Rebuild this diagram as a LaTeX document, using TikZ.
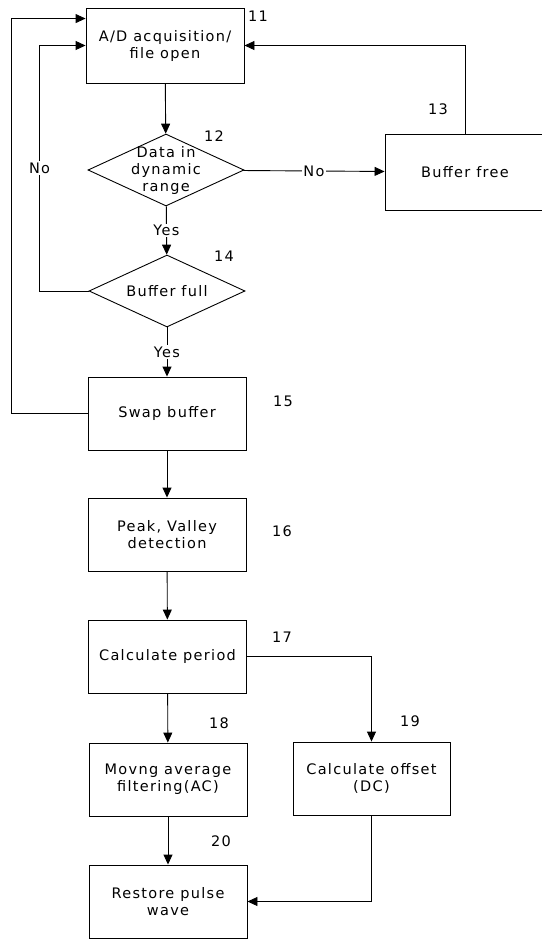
\documentclass[tikz,border=0pt]{standalone}
\usepackage{fontspec}
\setmainfont[LetterSpace=9]{DejaVu Sans}
\usepackage{tikz}
\usetikzlibrary{arrows.meta,positioning,shapes.geometric}

\begin{document}
\begin{tikzpicture}[x=1pt,y=-1pt,>={Triangle[length=10pt,width=9pt]},line width=.9pt,
  every node/.style={font=\fontsize{14.5}{17}\selectfont},
  box/.style={draw,align=center,minimum width=158,minimum height=73,inner sep=2pt},
  dec/.style={diamond,draw,minimum width=156,minimum height=72,inner sep=0pt},
  lbl/.style={fill=white,inner sep=1.5pt}, num/.style={inner sep=0pt}]
\useasboundingbox (0,0) rectangle (541,940);
\node[box,minimum height=75] (n11) at (165,45.5) {A/D acquisition/\\file open};
\node[dec,label={[align=center]center:Data in\\dynamic\\range}] (n12) at (166,170) {};
\node[box,minimum width=160,minimum height=76] (n13) at (465,172) {Buffer free};
\node[dec,label={center:Buffer full}] (n14) at (167,291) {};
\node[box] (n15) at (167,413.5) {Swap buffer};
\node[box] (n16) at (167,534.5) {Peak, Valley\\detection};
\node[box] (n17) at (167.5,656.5) {Calculate period};
\node[box] (n18) at (168,779.5) {Movng average\\filtering(AC)};
\node[box,minimum width=157] (n19) at (371.5,778.5) {Calculate offset\\(DC)};
\node[box] (n20) at (168,901.5) {Restore pulse\\wave};
\foreach \n/\x/\y in {11/258/16,12/214/136,13/438/109,14/224/256,15/283/401,
  16/282/531,17/282/637,18/219/723,19/410/721,20/221/841}
  \node[num] (l\n) at (\x,\y) {\n};
% loops back to 11
\draw[->] (n11) -- (n12);
\draw[->] (n12) -- node[lbl]{No} (n13);
\draw[->] (n13.north) |- (n11.east);
\draw[->] (n12) -- node[lbl]{Yes} (n14);
\draw[->] (n14.west) -- ++(-49,0) |- node[lbl,pos=.25]{No} (n11.west);
\draw[->] (n14) -- node[lbl]{Yes} (n15);
\draw[->] (n15.west) -- ++(-76,0) |- ([yshift=-11pt]n11.north west);
% processing chain
\draw[->] (n15) -- (n16);
\draw[->] (n16) -- (n17);
\draw[->] (n17) -- (n18);
\draw[->] (n17.east) -| (n19.north);
\draw[->] (n18) -- (n20);
\draw[->] (n19.south) |- (n20.east);
\end{tikzpicture}
\end{document}
